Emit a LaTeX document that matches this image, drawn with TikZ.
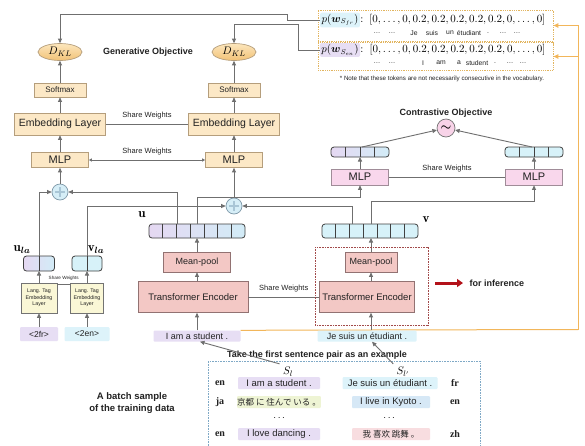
\documentclass[tikz,border=0pt]{standalone}
\usepackage{amsmath,amssymb}
\usepackage{fontspec}
\setsansfont{Liberation Sans}
\newfontfamily\serifbold{Liberation Serif}
\newfontfamily\jafont{Noto Sans CJK JP}
\newfontfamily\zhfont{Noto Sans CJK SC}
\usetikzlibrary{arrows.meta,shapes.geometric,calc}
\pgfdeclarelayer{bg}
\pgfsetlayers{bg,main}

\definecolor{lineg}{HTML}{6F6F6F}
\definecolor{genfill}{HTML}{FCE8C6}
\definecolor{gendraw}{HTML}{B59E7C}
\definecolor{dkltop}{HTML}{FCE6BC}
\definecolor{dklbot}{HTML}{F2C277}
\definecolor{pinkfill}{HTML}{F9D7EC}
\definecolor{pinkdraw}{HTML}{A08C98}
\definecolor{encfill}{HTML}{F3C8C5}
\definecolor{encdraw}{HTML}{927272}
\definecolor{tagfill}{HTML}{FAF7D6}
\definecolor{plusfill}{HTML}{D6EEF7}
\definecolor{plusdraw}{HTML}{7E98A8}
\definecolor{plusmark}{HTML}{A9C6D6}
\definecolor{purp}{HTML}{E5D8F2}
\definecolor{blu}{HTML}{D2ECF7}
\definecolor{cyanc}{HTML}{D7F2F9}
\definecolor{orangeline}{HTML}{F2B65A}
\definecolor{darkred}{HTML}{B3121A}
\definecolor{dotred}{HTML}{A24A4A}
\definecolor{dotblue}{HTML}{7FA9C6}
\definecolor{dotorange}{HTML}{E2B560}
\definecolor{sentpurp}{HTML}{E7DEF4}
\definecolor{sentcyan}{HTML}{DDF3FA}
\definecolor{sentgreen}{HTML}{EEF4D4}
\definecolor{sentblue}{HTML}{D6E8F6}
\definecolor{sentpink}{HTML}{F8DDE0}
\definecolor{simfill}{HTML}{F8D3E8}
\definecolor{txt}{HTML}{222222}

% a row of vector cells: name, centre, width, height, cells, fill options
\newcommand{\cellbar}[6]{%
  \node[vecbar, minimum width=#3pt, minimum height=#4pt, #6] (#1) at #2 {};
  \pgfmathsetmacro{\cellw}{#3/#5}%
  \pgfmathtruncatemacro{\lastk}{#5-1}%
  \foreach \k in {1,...,\lastk}
    \draw[cellsep] ([xshift=\k*\cellw pt]#1.south west) -- ([xshift=\k*\cellw pt]#1.north west);
}

\tikzset{
  wire/.style={draw=lineg, line width=0.9pt},
  arr/.style={wire, -{Triangle[length=4.5pt,width=4pt]}},
  twoway/.style={wire, {Triangle[length=3pt,width=3pt]}-{Triangle[length=3pt,width=3pt]}},
  oline/.style={draw=orangeline, line width=1pt},
  oarr/.style={oline, -{Triangle[length=5pt,width=4.5pt]}},
  lbl/.style={font=\sffamily\fontsize{7.5}{7.5}\selectfont, text=txt},
  ttl/.style={font=\sffamily\bfseries\fontsize{9}{9}\selectfont, text=txt},
  genbox/.style={draw=gendraw, fill=genfill, line width=0.7pt, inner sep=0pt, text=txt},
  dkl/.style={ellipse, draw=gendraw, top color=dkltop, bottom color=dklbot, line width=0.7pt,
    minimum width=44pt, minimum height=17pt, inner sep=0pt, font=\fontsize{11}{11}\selectfont},
  smbox/.style={genbox, minimum width=52pt, minimum height=14pt, font=\sffamily\fontsize{8}{8}\selectfont},
  embbox/.style={genbox, minimum width=91pt, minimum height=22pt, font=\sffamily\fontsize{10.5}{10.5}\selectfont},
  mlpg/.style={genbox, minimum width=57pt, minimum height=15pt, font=\sffamily\fontsize{11}{11}\selectfont},
  pinkbox/.style={draw=pinkdraw, fill=pinkfill, line width=0.7pt, inner sep=0pt, text=txt,
    minimum width=57pt, minimum height=16pt, font=\sffamily\fontsize{11}{11}\selectfont},
  encbox/.style={draw=encdraw, fill=encfill, line width=0.7pt, inner sep=0pt, text=txt},
  tagbox/.style={draw=black!55, fill=tagfill, line width=0.6pt, inner sep=0pt, minimum height=30pt,
    align=center, font=\sffamily\fontsize{5.3}{6.4}\selectfont, text=txt},
  sent/.style={fill=#1, inner sep=0pt, minimum height=11pt, rounded corners=1pt, text=txt,
    font=\sffamily\fontsize{9}{9}\selectfont},
  bsent/.style={sent=#1, minimum height=12pt, font=\sffamily\fontsize{9.5}{9.5}\selectfont},
  lang/.style={font=\serifbold\bfseries\fontsize{10}{10}\selectfont, text=txt},
  vecbar/.style={draw=black!75, line width=0.8pt, rounded corners=3pt, inner sep=0pt, outer sep=0pt},
  cellsep/.style={draw=black!75, line width=0.6pt},
  opl/.style={circle, draw=plusdraw, fill=plusfill, line width=0.7pt, minimum size=16pt, inner sep=0pt},
  plusline/.style={draw=plusmark, line width=1.1pt},
  tok/.style={font=\sffamily\fontsize{6.8}{6.8}\selectfont, text=txt},
  pbox/.style={draw=dotorange, dash pattern=on 0.9pt off 0.9pt, line width=0.9pt, inner sep=0pt},
}

\begin{document}
\begin{tikzpicture}[x=1pt, y=-1pt]
\useasboundingbox (0,0) rectangle (585,445);

% ---------------- generative branch ----------------
\node[dkl] (dkl1) at (60,52) {$D_{KL}$};
\node[smbox] (sm1) at (60,90) {Softmax};
\node[embbox] (emb1) at (60,124) {Embedding Layer};
\node[mlpg] (mlp1) at (60,160) {MLP};
\node[opl] (add1) at (60,192) {};

\node[dkl] (dkl2) at (234,52) {$D_{KL}$};
\node[smbox] (sm2) at (234,90) {Softmax};
\node[embbox] (emb2) at (234,124) {Embedding Layer};
\node[mlpg] (mlp2) at (234,160) {MLP};
\node[opl] (add2) at (234,206) {};

\foreach \a in {add1,add2}{
  \draw[plusline] ($(\a)+(-5,0)$) -- ($(\a)+(5,0)$);
  \draw[plusline] ($(\a)+(0,-5)$) -- ($(\a)+(0,5)$);
}

\node[ttl] (genobj) at (148,52) {Generative Objective};

\draw[arr] (sm1) -- (dkl1);
\draw[arr] (emb1) -- (sm1);
\draw[arr] (mlp1) -- (emb1);
\draw[arr] (add1) -- (mlp1);
\draw[arr] (sm2) -- (dkl2);
\draw[arr] (emb2) -- (sm2);
\draw[arr] (mlp2) -- (emb2);
\draw[arr] (add2) -- (mlp2);

\draw[wire] (emb1) -- (emb2) node[midway, above=1pt, lbl] {Share Weights};
\draw[twoway] (mlp1) -- (mlp2) node[midway, above=1pt, lbl] {Share Weights};

% ---------------- target distributions ----------------
\node[pbox, minimum width=235pt, minimum height=31pt] (box1) at (435.5,25.5) {};
\node[pbox, minimum width=235pt, minimum height=28pt] (box2) at (435.5,56.5) {};

\node[fill=sentcyan, inner sep=1.5pt, rounded corners=2pt, font=\fontsize{10.5}{10.5}\selectfont] (pfr) at (340,20) {$p(\boldsymbol{w}_{S_{fr}})$};
\node[fill=sentpurp, inner sep=1.5pt, rounded corners=2pt, font=\fontsize{10.5}{10.5}\selectfont] (pen) at (340,50) {$p(\boldsymbol{w}_{S_{en}})$};
\node[anchor=west, inner sep=0pt, font=\fontsize{11}{11}\selectfont] (dist1) at (pfr.east) {$:\;[0,\ldots,0,0.2,0.2,0.2,0.2,0.2,0,\ldots,0]$};
\node[anchor=west, inner sep=0pt, font=\fontsize{11}{11}\selectfont] (dist2) at (pen.east) {$:\;[0,\ldots,0,0.2,0.2,0.2,0.2,0.2,0,\ldots,0]$};

\foreach \x/\w in {377/\dots, 392/\dots, 414/Je, 432/suis, 450/un, 469/étudiant, 488/., 503/\dots, 517/\dots}
  \node[tok] at (\x,33) {\w};
\foreach \x/\w in {377/\dots, 392/\dots, 423/I, 441/am, 459/a, 477/student, 495/., 510/\dots, 523/\dots}
  \node[tok] at (\x,63) {\w};

\node[font=\sffamily\fontsize{6.2}{6.2}\selectfont, text=txt] (note) at (442,79)
  {* Note that these tokens are not necessarily consecutive in the vocabulary.};

\draw[arr] (pfr.west) -- (287,20) |- (60,14) -- (dkl1.north);
\draw[arr] (pen.west) -- (298,50) |- (234,24) -- (dkl2.north);

% ---------------- contrastive branch ----------------
\node[ttl] (cobj) at (446,113) {Contrastive Objective};
\node[circle, draw=black!55, fill=simfill, line width=0.7pt, minimum size=18pt, inner sep=0pt] (sim) at (446,128)
  {\fontsize{12}{12}\selectfont$\boldsymbol{\sim}$};

\cellbar{cl}{(360,152)}{58}{10}{4}{left color=purp, right color=blu}
\cellbar{cr}{(534,152)}{58}{10}{4}{fill=cyanc}

\node[pinkbox] (mlp3) at (360,177) {MLP};
\node[pinkbox] (mlp4) at (534,177) {MLP};

\draw[arr] ([xshift=2pt]cl.north) -- (sim);
\draw[arr] ([xshift=-2pt]cr.north) -- (sim);
\draw[arr] (mlp3) -- (cl);
\draw[arr] (mlp4) -- (cr);
\draw[wire] (mlp3) -- (mlp4) node[midway, above=1pt, lbl] {Share Weights};

% ---------------- sentence encoders ----------------
\cellbar{u}{(197,231)}{96}{14}{7}{left color=purp, right color=blu}
\cellbar{v}{(370,231)}{96}{14}{7}{fill=cyanc}
\node[font=\fontsize{13}{13}\selectfont] (ulab) at (142,215) {$\mathbf{u}$};
\node[font=\fontsize{13}{13}\selectfont] (vlab) at (426,220) {$\mathbf{v}$};

\node[encbox, minimum width=67pt, minimum height=20pt, font=\sffamily\fontsize{9}{9}\selectfont] (mp1) at (197,262) {Mean-pool};
\node[encbox, minimum width=52pt, minimum height=20pt, font=\sffamily\fontsize{9}{9}\selectfont] (mp2) at (371,262) {Mean-pool};
\node[encbox, minimum width=110pt, minimum height=31pt, font=\sffamily\fontsize{9.5}{9.5}\selectfont] (te1) at (193,297) {Transformer Encoder};
\node[encbox, minimum width=95pt, minimum height=31pt, font=\sffamily\fontsize{9.5}{9.5}\selectfont] (te2) at (367,297) {Transformer Encoder};

\draw[wire] (te1) -- (te2) node[midway, above=1pt, lbl] {Share Weights};

\node[sent=sentpurp, minimum width=87pt] (s1) at (197,336) {I am a student .};
\node[sent=sentcyan, minimum width=99pt] (s2) at (367,336) {Je suis un étudiant .};

\draw[arr] (s1.north) -- (s1.north |- te1.south);
\draw[arr] (mp1.south |- te1.north) -- (mp1.south);
\draw[arr] (mp1.north) -- (u.south);
\draw[arr] (s2.north -| mp2.south) -- (mp2.south |- te2.south);
\draw[arr] (mp2.south |- te2.north) -- (mp2.south);
\draw[arr] (mp2.north) -- (mp2.north |- v.south);

% inference part
\draw[dotred, dash pattern=on 0.8pt off 0.8pt, line width=0.9pt] (315,247) rectangle (428,325);
\coordinate (infa) at (435,283);
\coordinate (infb) at (463,283);
\draw[darkred, line width=3pt, -{Triangle[length=6pt,width=8pt]}] (infa) -- (infb);
\node[ttl, anchor=west] (infer) at (466,283) {for inference};

% ---------------- language tags ----------------
\cellbar{ula}{(39,263.5)}{31}{15}{2}{left color=purp, right color=blu}
\cellbar{vla}{(87,263.5)}{30}{15}{2}{fill=cyanc}
\node[font=\fontsize{13}{13}\selectfont] (ulalab) at (22,250) {$\mathbf{u}_{\boldsymbol{la}}$};
\node[font=\fontsize{13}{13}\selectfont] (vlalab) at (96,250) {$\mathbf{v}_{\boldsymbol{la}}$};

\node[tagbox, minimum width=36pt] (tag1) at (39,298) {Lang. Tag\\Embedding\\Layer};
\node[tagbox, minimum width=33pt] (tag2) at (87,298) {Lang. Tag\\Embedding\\Layer};
\draw[wire, line width=0.7pt] ($(tag1.north east)+(0,2)$) -- ($(tag2.north west)+(0,2)$)
  node[midway, above=0.5pt, font=\sffamily\fontsize{4.6}{4.6}\selectfont, text=txt] {Share Weights};

\node[sent=sentpurp, minimum width=38pt, minimum height=14pt, font=\sffamily\fontsize{8.5}{8.5}\selectfont] (fr) at (39,334) {<2fr>};
\node[sent=sentcyan, minimum width=45pt, minimum height=14pt, font=\sffamily\fontsize{8.5}{8.5}\selectfont] (en) at (87,334) {<2en>};

\draw[arr] (fr.north) -- (tag1.south);
\draw[arr] (en.north) -- (tag2.south);
\draw[arr] (tag1.north) -- (ula.south);
\draw[arr] (tag2.north) -- (vla.south);

% ---------------- fusion ----------------
\draw[arr] (ula.north) |- (add1.west);
\draw[arr] ([xshift=-20pt]u.north) |- (add1.east);
\draw[arr] (vla.north) |- (add2.west);
\draw[arr] ([xshift=-18pt]v.north) |- (add2.east);
\draw[arr] (u.north) -- ++(0,-27) -| (mlp3.south);
\draw[arr] ([xshift=1pt]v.north) -- ++(0,-23) -| (mlp4.south);

% ---------------- batch ----------------
\node[ttl] (take) at (317,355) {Take the first sentence pair as an example};
\node[draw=dotblue, dash pattern=on 0.8pt off 0.8pt, line width=0.8pt, minimum width=272pt, minimum height=92pt,
  anchor=north west, inner sep=0pt] (batch) at (208,361) {};

\node[font=\fontsize{11}{11}\selectfont] (sl) at (288,372) {$S_l$};
\node[font=\fontsize{11}{11}\selectfont] (slp) at (403,372) {$S_{l'}$};
\draw[arr] (sl.north west) -- ([xshift=3pt]s1.south);
\draw[arr] (slp.north west) -- ([xshift=5pt]s2.south);

\node[lang] (l1) at (220,383) {en};
\node[lang] (l2) at (220,402) {ja};
\node[lang] (l4) at (220,434) {en};
\node[lang] (r1) at (455,383) {fr};
\node[lang] (r2) at (455,402) {en};
\node[lang] (r4) at (455,434) {zh};

\node[bsent=sentpurp, minimum width=82pt] (b1) at (279,383) {I am a student .};
\node[bsent=sentgreen, minimum width=82pt] (b2) at (279,402) {\jafont\fontsize{8.5}{8.5}\selectfont 京都 に 住んで いる 。};
\node[bsent=sentpurp, minimum width=82pt] (b4) at (279,434) {I love dancing .};
\node[bsent=sentcyan, minimum width=95pt] (c1) at (390,383) {Je suis un étudiant .};
\node[bsent=sentblue, minimum width=78pt] (c2) at (391,402) {I live in Kyoto .};
\node[bsent=sentpink, minimum width=78pt] (c4) at (391,434) {\zhfont\fontsize{8.5}{8.5}\selectfont 我 喜欢 跳舞 。};
\node[font=\bfseries\fontsize{10}{10}\selectfont] (d1) at (280,418) {$\cdots$};
\node[font=\bfseries\fontsize{10}{10}\selectfont] (d2) at (390,418) {$\cdots$};

\node[font=\sffamily\bfseries\fontsize{9.5}{11.5}\selectfont, align=center, text=txt] (batchlab) at (132,403)
  {A batch sample\\of the training data};

% ---------------- background ----------------
\begin{pgfonlayer}{bg}
  \fill[white] (0,0) rectangle (585,445);
  \coordinate (oturn) at (578,329.5);
  \draw[oline] (s1.north east) -- (oturn);
  \draw[oarr] (oturn) -- (oturn |- box1.east) -- (box1.east);
  \draw[oarr] (oturn |- box2.east) -- (box2.east);
\end{pgfonlayer}
\end{tikzpicture}
\end{document}
